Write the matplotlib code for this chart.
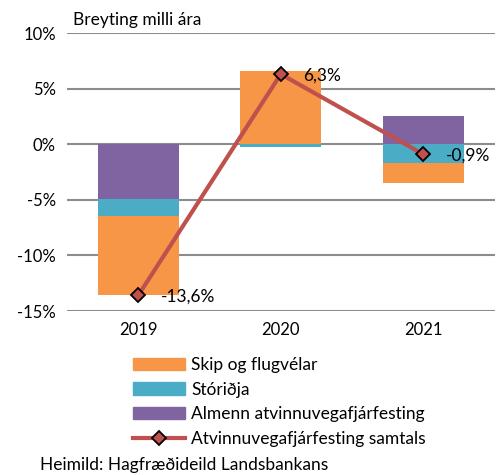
import numpy as np
import matplotlib.pyplot as plt
from matplotlib.lines import Line2D
from matplotlib.patches import Patch

plt.rcParams['font.family'] = ['Lato', 'DejaVu Sans']

years = ["2019", "2020", "2021"]
skip = [-7.1, 6.55, -1.8]
storidja = [-1.6, -0.25, -1.65]
almenn = [-4.9, 0.0, 2.5]
samtals = [-13.6, 6.3, -0.9]
labels = ["-13,6%", "6,3%", "-0,9%"]

c_orange = "#F79646"
c_cyan = "#4BACC6"
c_purple = "#8064A2"
c_red = "#C0504D"

fig = plt.figure(figsize=(4.97, 4.75), dpi=100)
ax = fig.add_axes([67/497, 1 - 311/475, (494.5 - 67)/497, (311 - 33)/475])

x = np.arange(len(years))
w = 0.57

# stack positives and negatives separately
pos = np.zeros(len(years))
neg = np.zeros(len(years))
for vals, col in [(almenn, c_purple), (storidja, c_cyan), (skip, c_orange)]:
    vals = np.array(vals)
    bottoms = np.where(vals >= 0, pos, neg)
    ax.bar(x, vals, w, bottom=bottoms, color=col, zorder=2)
    pos += np.where(vals >= 0, vals, 0)
    neg += np.where(vals < 0, vals, 0)

ax.plot(x, samtals, color=c_red, lw=3, marker="D", ms=7,
        mfc=c_red, mec="black", mew=1.3, zorder=4)
for xi, yi, lab in zip(x, samtals, labels):
    ax.annotate(lab, (xi, yi), xytext=(16, -1), textcoords="offset points",
                va="center", ha="left", fontsize=12.5, zorder=5)

ax.set_xlim(-0.5, 2.5)
ax.set_ylim(-15, 10)
ax.set_yticks([-15, -10, -5, 0, 5, 10])
ax.set_yticklabels([f"{v}%" for v in [-15, -10, -5, 0, 5, 10]], fontsize=12)
ax.set_xticks(x)
ax.set_xticklabels(years, fontsize=12)
ax.tick_params(length=0, pad=8)
ax.yaxis.grid(True, color="#8c8c8c", lw=1.5, zorder=0)
ax.set_axisbelow(True)
for s in ax.spines.values():
    s.set_visible(False)

fig.text(73/497, 1 - 20/475, "Breyting milli ára", fontsize=12.5, va="center")

handles = [
    Patch(color=c_orange, label="Skip og flugvélar"),
    Patch(color=c_cyan, label="Stóriðja"),
    Patch(color=c_purple, label="Almenn atvinnuvegafjárfesting"),
    Line2D([0], [0], color=c_red, lw=3, marker="D", ms=7, mfc=c_red,
           mec="black", mew=1.3, label="Atvinnuvegafjárfesting samtals"),
]
fig.legend(handles=handles, loc="upper left", bbox_to_anchor=(126/497, 1 - 350/475),
           frameon=False, fontsize=12.5, handlelength=3.0, handleheight=0.7,
           labelspacing=0.5, handletextpad=0.35, borderaxespad=0)

fig.text(40/497, 1 - 465/475, "Heimild: Hagfræðideild Landsbankans", fontsize=12.5, va="center")

fig.savefig("out.png", dpi=100)
